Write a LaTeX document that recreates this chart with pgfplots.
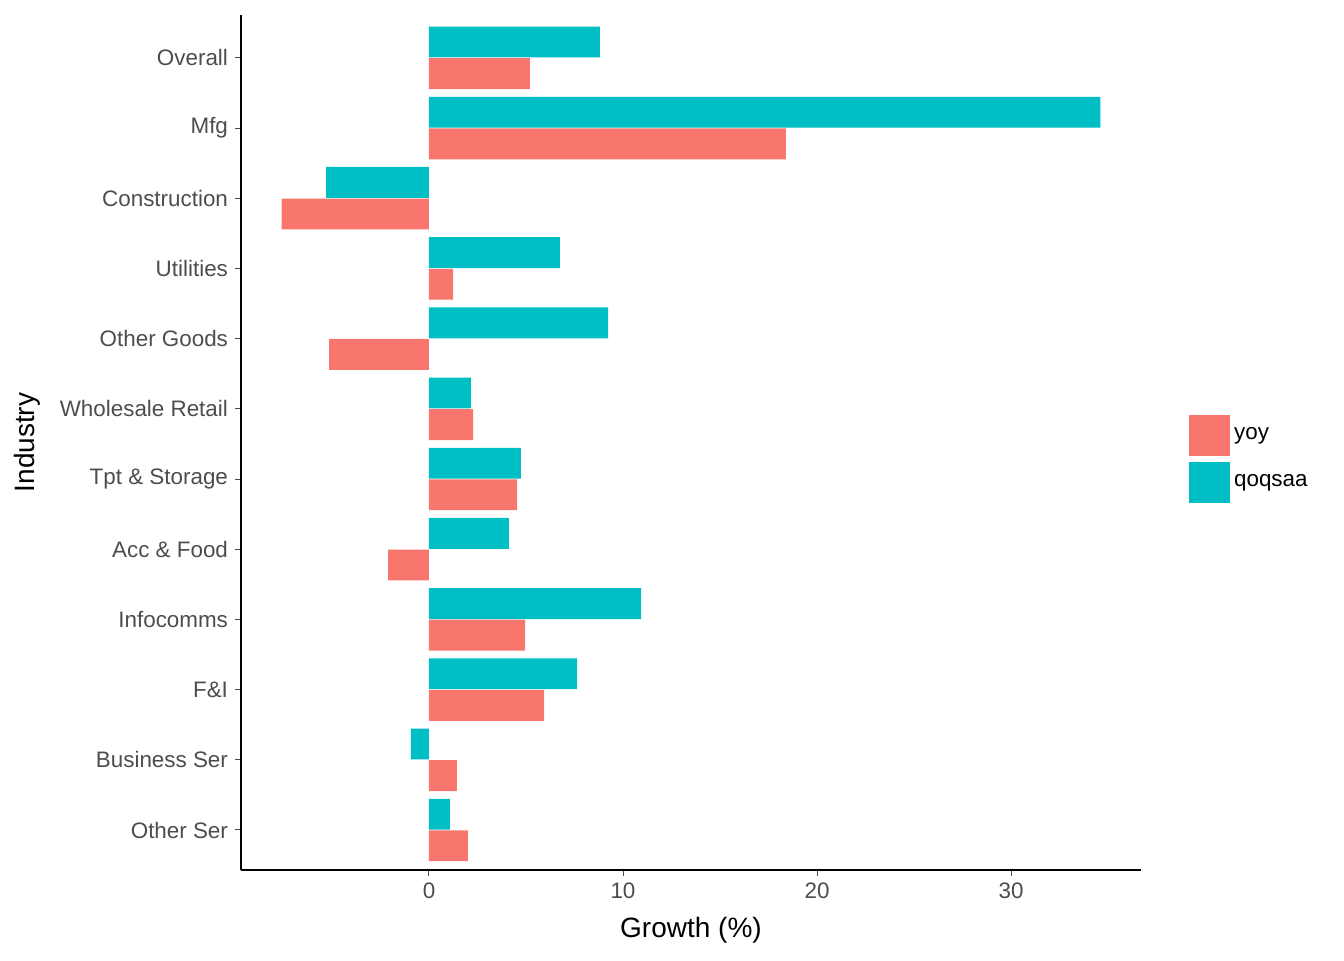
\documentclass[border=0pt]{standalone}
\usepackage{pgfplots}
\pgfplotsset{compat=1.18}
\usepackage{fontspec}
\setmainfont{Liberation Sans}
\definecolor{cyoy}{HTML}{F8766D}
\definecolor{cqoq}{HTML}{00BFC4}
\definecolor{tgray}{HTML}{4D4D4D}
\begin{document}
\begin{tikzpicture}
\path[use as bounding box] (-120.5pt,-45pt) rectangle (551.5pt,435pt);
\begin{axis}[
  at={(0,0)}, anchor=south west,
  scale only axis, width=450pt, height=427.5pt,
  xmin=-9.69, xmax=36.7, ymin=-0.57, ymax=11.61,
  axis x line*=bottom, axis y line*=left,
  axis line style={black, line width=0.6pt, -},
  xtick={0,10,20,30},
  ytick={0,...,11},
  yticklabels={Other Ser,Business Ser,F\&I,Infocomms,Acc \& Food,Tpt \& Storage,Wholesale Retail,Other Goods,Utilities,Construction,Mfg,Overall},
  tick align=outside, major tick length=3pt,
  tick style={tgray, line width=0.5pt},
  ticklabel style={font=\fontsize{11.2}{13}\selectfont, text=tgray},
  /pgf/number format/assume math mode=true,
  xlabel={Growth (\%)}, ylabel={Industry},
  label style={font=\fontsize{14}{16}\selectfont},
  xlabel style={at={(axis description cs:0.5,0)}, anchor=center, yshift=-30pt},
  ylabel style={at={(axis description cs:-0.237,0.5)}, anchor=center},
  xbar, bar width=0.44,
  legend style={at={(axis description cs:1.053,0.481)}, anchor=west, draw=none, inner sep=0pt, font=\fontsize{11.2}{13}\selectfont, row sep=3pt, cells={anchor=west}},
  legend image code/.code={\fill[#1,draw=none] (0pt,-10.25pt) rectangle (20.5pt,10.25pt);},
  legend cell align=left,
]
\addplot[fill=cyoy, draw=none, bar shift=-0.225] coordinates {
(2.01,0) (1.44,1) (5.93,2) (4.95,3) (-2.11,4) (4.54,5) (2.27,6) (-5.15,7) (1.24,8) (-7.6,9) (18.4,10) (5.2,11)};
\addlegendentry{yoy}
\addplot[fill=cqoq, draw=none, bar shift=0.225] coordinates {
(1.08,0) (-0.93,1) (7.63,2) (10.93,3) (4.12,4) (4.74,5) (2.16,6) (9.23,7) (6.75,8) (-5.3,9) (34.6,10) (8.81,11)};
\addlegendentry{qoqsaa}
\node[anchor=west, inner sep=0pt, font=\fontsize{14}{16}\selectfont] at (axis description cs:1.052,0.558) {series};
\end{axis}
\end{tikzpicture}
\end{document}
